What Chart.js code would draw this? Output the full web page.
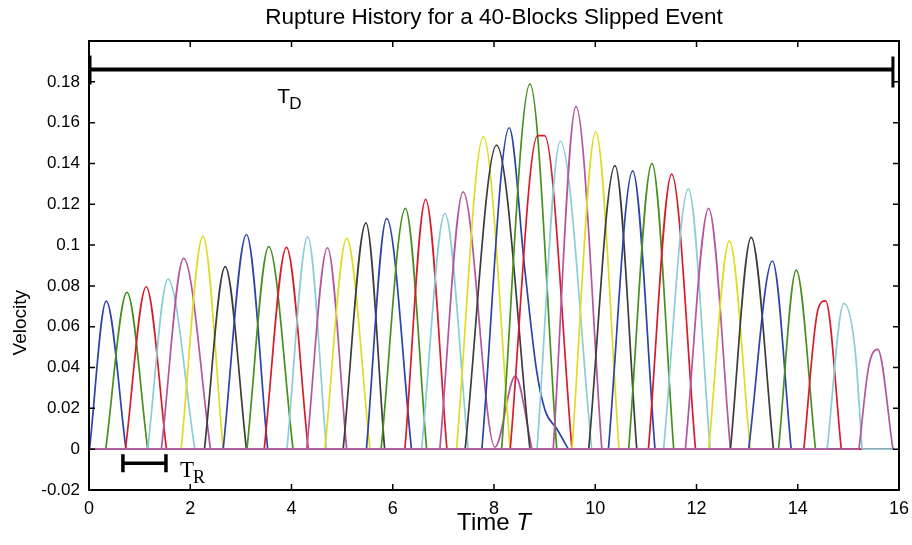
<!DOCTYPE html>
<html>
<head>
<meta charset="utf-8">
<title>Rupture History</title>
<script src="https://cdn.jsdelivr.net/npm/chart.js@4.4.1/dist/chart.umd.min.js"></script>
<style>
  html, body { margin: 0; padding: 0; background: #fff; }
</style>
</head>
<body>
<canvas id="ruptureChart" width="912" height="545"></canvas>
<script>
// colour cycle used for the blocks (b g r c m y k)
var blockColors = ['#2b44a6', '#47901f', '#d81c2c', '#8ccdd6', '#b3559f', '#e0dc26', '#3c3c3c'];

// knot times of each block's velocity pulse (block 1 .. 40)
var pulseTimes = [
    [0.01, 0.34, 0.73], [0.33, 0.75, 1.16], [0.72, 1.13, 1.53], [1.16, 1.56, 2.09],
    [1.43, 1.87, 2.40], [1.82, 2.25, 2.65], [2.28, 2.69, 3.11], [2.65, 3.11, 3.53],
    [3.12, 3.55, 4.03], [3.46, 3.90, 4.33], [3.91, 4.32, 4.69], [4.30, 4.71, 5.09],
    [4.66, 5.09, 5.55], [5.02, 5.47, 5.84], [5.48, 5.88, 6.37], [5.77, 6.25, 6.67],
    [6.24, 6.65, 7.07], [6.57, 7.03, 7.49], [6.93, 7.39, 8.02, 8.42, 8.75], [7.26, 7.79, 8.32],
    [7.43, 8.05, 8.71], [7.76, 8.30, 8.61, 8.84, 9.01, 9.24, 9.47], [8.15, 8.71, 9.24], [8.32, 8.86, 9.00, 9.54],
    [8.85, 9.31, 9.93], [9.17, 9.62, 10.13], [9.54, 10.01, 10.47], [9.87, 10.39, 10.82],
    [10.26, 10.74, 11.18], [10.66, 11.12, 11.55], [11.05, 11.51, 11.98], [11.35, 11.84, 12.27],
    [11.78, 12.24, 12.67], [12.24, 12.65, 13.06], [12.67, 13.08, 13.52], [13.03, 13.50, 13.87],
    [13.62, 13.97, 14.35], [14.12, 14.40, 14.55, 14.86], [14.58, 14.91, 15.13, 15.27], [15.21, 15.40, 15.58, 15.88]
];
// velocities at those knots
var pulseVelocities = [
    [0, 0.0725, 0], [0, 0.0768, 0], [0, 0.0796, 0], [0, 0.0833, 0],
    [0, 0.0935, 0], [0, 0.1044, 0], [0, 0.0894, 0], [0, 0.1052, 0],
    [0, 0.0992, 0], [0, 0.0989, 0], [0, 0.1041, 0], [0, 0.0987, 0],
    [0, 0.1033, 0], [0, 0.1109, 0], [0, 0.1131, 0], [0, 0.118, 0],
    [0, 0.1224, 0], [0, 0.1155, 0], [0, 0.1261, 0.001, 0.0358, 0], [0, 0.1531, 0],
    [0, 0.149, 0], [0, 0.1575, 0.0877, 0.0387, 0.019, 0.010, 0], [0, 0.1789, 0], [0, 0.1536, 0.1536, 0],
    [0, 0.151, 0], [0, 0.1678, 0], [0, 0.1555, 0], [0, 0.1389, 0],
    [0, 0.1364, 0], [0, 0.14, 0], [0, 0.1348, 0], [0, 0.1275, 0],
    [0, 0.118, 0], [0, 0.1021, 0], [0, 0.1038, 0], [0, 0.0922, 0],
    [0, 0.0877, 0], [0, 0.0685, 0.0727, 0], [0, 0.0714, 0.0494, 0], [0, 0.0403, 0.0489, 0]
];

var recordEnd = 15.9;
var timeTicks = [0, 2, 4, 6, 8, 10, 12, 14, 16];
var velocityTicks = [-0.02, 0, 0.02, 0.04, 0.06, 0.08, 0.1, 0.12, 0.14, 0.16, 0.18];

// duration bar (T_D) and rise-time bar (T_R): [from, to] in time, level in velocity
var durationSpan = [0, 15.88], durationLevel = 0.186;
var riseSpan = [0.67, 1.52], riseLevel = -0.0069;

var sans = '"Liberation Sans", Arial, Helvetica, sans-serif';
var serif = '"Liberation Serif", "Times New Roman", serif';
Chart.defaults.font.family = sans;
Chart.defaults.color = '#000';

var datasets = pulseTimes.map(function (ts, i) {
    var first = ts[0], last = ts[ts.length - 1];
    var pts = [{x: 0, y: 0}, {x: first, y: 0}, {x: first, y: null}];
    ts.forEach(function (t, k) { pts.push({x: t, y: pulseVelocities[i][k]}); });
    pts.push({x: last, y: null}, {x: last, y: 0}, {x: recordEnd, y: 0});
    return {
        label: 'Block ' + (i + 1),
        data: pts,
        borderColor: blockColors[i % blockColors.length],
        borderWidth: 1.7,
        pointRadius: 0,
        cubicInterpolationMode: 'monotone',
        spanGaps: false,
        order: pulseTimes.length - i
    };
});

var framePlugin = {
    id: 'frame',
    afterDraw: function (chart) {
        var ctx = chart.ctx, a = chart.chartArea, x = chart.scales.x, y = chart.scales.y;
        var midX = (a.left + a.right) / 2;
        ctx.save();
        ctx.strokeStyle = '#000';
        ctx.lineWidth = 2;
        ctx.strokeRect(a.left, a.top, a.right - a.left, a.bottom - a.top);

        // inward ticks on all four sides
        ctx.lineWidth = 1.5;
        ctx.beginPath();
        timeTicks.forEach(function (t) {
            var px = x.getPixelForValue(t);
            ctx.moveTo(px, a.bottom); ctx.lineTo(px, a.bottom - 6);
            ctx.moveTo(px, a.top); ctx.lineTo(px, a.top + 6);
        });
        velocityTicks.forEach(function (v) {
            var py = y.getPixelForValue(v);
            ctx.moveTo(a.left, py); ctx.lineTo(a.left + 6, py);
            ctx.moveTo(a.right, py); ctx.lineTo(a.right - 6, py);
        });
        ctx.stroke();

        // T_D bar
        var dy = y.getPixelForValue(durationLevel);
        var d0 = x.getPixelForValue(durationSpan[0]), d1 = x.getPixelForValue(durationSpan[1]);
        ctx.lineWidth = 4;
        ctx.beginPath(); ctx.moveTo(d0, dy); ctx.lineTo(d1, dy); ctx.stroke();
        ctx.lineWidth = 3;
        ctx.beginPath();
        ctx.moveTo(d0 + 1, dy - 14); ctx.lineTo(d0 + 1, dy + 15);
        ctx.moveTo(d1, dy - 13); ctx.lineTo(d1, dy + 18);
        ctx.stroke();

        // T_R bar
        var ry = y.getPixelForValue(riseLevel);
        var r0 = x.getPixelForValue(riseSpan[0]), r1 = x.getPixelForValue(riseSpan[1]);
        ctx.lineWidth = 3.5;
        ctx.beginPath(); ctx.moveTo(r0, ry); ctx.lineTo(r1, ry); ctx.stroke();
        ctx.beginPath();
        ctx.moveTo(r0, ry - 9); ctx.lineTo(r0, ry + 9);
        ctx.moveTo(r1, ry - 9); ctx.lineTo(r1, ry + 9);
        ctx.stroke();

        ctx.fillStyle = '#000';
        ctx.textBaseline = 'alphabetic';
        ctx.textAlign = 'left';
        // T_D label
        var tx = x.getPixelForValue(3.72), ty = dy + 33;
        ctx.font = '21px ' + sans;
        ctx.fillText('T', tx, ty);
        ctx.font = '17px ' + sans;
        ctx.fillText('D', tx + 12, ty + 6);
        // T_R label
        var sx = r1 + 14, sy = ry + 14;
        ctx.font = '23px ' + serif;
        ctx.fillText('T', sx, sy);
        ctx.font = '18px ' + serif;
        ctx.fillText('R', sx + 13, sy + 6);

        // title, centred over the plot box
        ctx.textBaseline = 'middle';
        ctx.textAlign = 'center';
        ctx.font = '22.5px ' + sans;
        ctx.fillText('Rupture History for a 40-Blocks Slipped Event', midX, 18);

        // x axis title with italic T
        ctx.textAlign = 'left';
        ctx.font = '24px ' + sans;
        var w1 = ctx.measureText('Time ').width;
        ctx.font = 'italic 24px ' + sans;
        var w2 = ctx.measureText('T').width;
        var cx = midX - (w1 + w2) / 2;
        ctx.font = '24px ' + sans;
        ctx.fillText('Time ', cx, 523);
        ctx.font = 'italic 24px ' + sans;
        ctx.fillText('T', cx + w1, 523);

        // y axis title
        ctx.translate(21, y.getPixelForValue(0.062));
        ctx.rotate(-Math.PI / 2);
        ctx.textAlign = 'center';
        ctx.font = '19px ' + sans;
        ctx.fillText('Velocity', 0, 0);
        ctx.restore();
    }
};

new Chart(document.getElementById('ruptureChart').getContext('2d'), {
    type: 'line',
    data: {datasets: datasets},
    options: {
        responsive: false,
        animation: false,
        layout: {padding: {left: 0, right: 13, top: 41, bottom: 0}},
        plugins: {
            legend: {display: false},
            tooltip: {enabled: false},
            title: {display: false}
        },
        scales: {
            x: {
                type: 'linear',
                min: 0,
                max: 16,
                grid: {display: false},
                border: {display: false},
                afterBuildTicks: function (s) { s.ticks = timeTicks.map(function (v) { return {value: v}; }); },
                afterFit: function (s) { s.height = 55; },
                ticks: {font: {size: 18}, padding: 0, maxRotation: 0}
            },
            y: {
                type: 'linear',
                min: -0.02,
                max: 0.2,
                grid: {display: false},
                border: {display: false},
                afterBuildTicks: function (s) { s.ticks = velocityTicks.map(function (v) { return {value: v}; }); },
                afterFit: function (s) { s.width = 89; },
                ticks: {
                    font: {size: 17},
                    padding: 1,
                    callback: function (v) { return Number(v.toFixed(2)).toString(); }
                }
            }
        }
    },
    plugins: [framePlugin]
});
</script>
</body>
</html>
